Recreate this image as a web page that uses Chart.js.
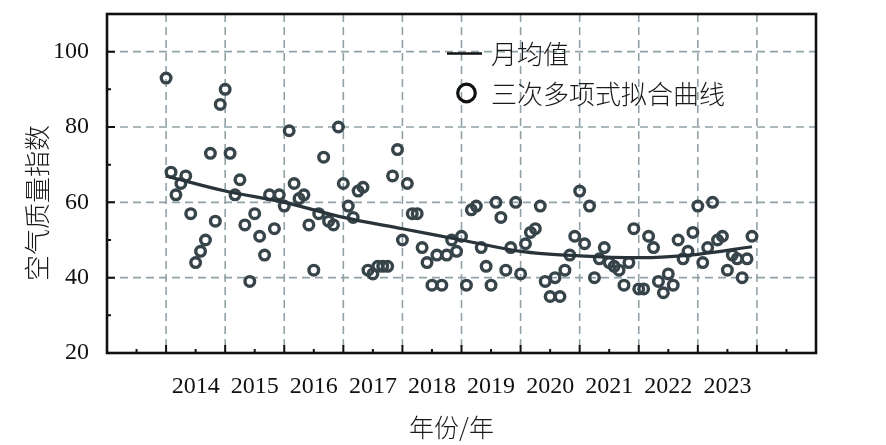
<!DOCTYPE html>
<html><head><meta charset="utf-8">
<script src="https://cdn.jsdelivr.net/npm/chart.js@4.4.1/dist/chart.umd.min.js"></script>
<style>html,body{margin:0;padding:0;background:#fff}#wrap{width:886px;height:445px}</style>
</head><body><div id="wrap"><canvas id="c" width="886" height="445"></canvas></div>
<script>
// ---- data ----
const years = ['2014','2015','2016','2017','2018','2019','2020','2021','2022','2023'];
const monthlyAQI = [
  93,68,62,65,67,57,44,47,50,73,55,86,
  90,73,62,66,54,39,57,51,46,62,53,62,
  59,79,65,61,62,54,42,57,72,55,54,80,
  65,59,56,63,64,42,41,43,43,43,67,74,
  50,65,57,57,48,44,38,46,38,46,50,47,
  51,38,58,59,48,43,38,60,56,42,48,60,
  41,49,52,53,59,39,35,40,35,42,46,51,
  63,49,59,40,45,48,44,43,42,38,44,53,
  37,37,51,48,39,36,41,38,50,45,47,52,
  59,44,48,60,50,51,42,46,45,40,45,51
];
const fitMonth = [0,12,24,36,48,60,72,84,96,108,119];
const fitAQI   = [67,63,60,56,53,50,47,45.8,45.3,46.2,48.2];
const yTicks = [20,40,60,80,100];
const yMinorTicks = [30,50,70,90];
const legendLabels = ['月均值','三次多项式拟合曲线'];
const xTitle = '年份/年';
const yTitle = '空气质量指数';

const GRID = '#90a2a7';
const PT = '#37444a';
const LINE = '#29343a';
const SERIF = '"Liberation Serif", "Times New Roman", serif';
const CJK = '"Noto Sans CJK SC", "Noto Sans", sans-serif';

const decor = {
  id: 'decor',
  beforeDatasetsDraw(chart) {
    const {ctx, chartArea: a, scales: {x, y}} = chart;
    ctx.save();
    ctx.strokeStyle = GRID; ctx.lineWidth = 1.6; ctx.setLineDash([8, 5]);
    ctx.beginPath();
    for (let m = 0; m <= 120; m += 12) {
      const px = x.getPixelForValue(m);
      ctx.moveTo(px, a.top); ctx.lineTo(px, a.bottom);
    }
    for (const v of yTicks) {
      if (v === y.min) continue;
      const py = y.getPixelForValue(v);
      ctx.moveTo(a.left, py); ctx.lineTo(a.right, py);
    }
    ctx.stroke();
    ctx.restore();
  },
  afterDraw(chart) {
    const {ctx, chartArea: a, scales: {x, y}} = chart;
    ctx.save();
    // tick marks (inward)
    ctx.strokeStyle = '#111'; ctx.lineWidth = 2;
    ctx.beginPath();
    for (let m = 0; m <= 120; m += 12) {
      const px = x.getPixelForValue(m);
      ctx.moveTo(px, a.bottom); ctx.lineTo(px, a.bottom - 8);
    }
    for (let m = -6; m <= 126; m += 12) {
      const px = x.getPixelForValue(m);
      ctx.moveTo(px, a.bottom); ctx.lineTo(px, a.bottom - 4);
    }
    for (const v of yTicks) {
      const py = y.getPixelForValue(v);
      ctx.moveTo(a.left, py); ctx.lineTo(a.left + 8, py);
    }
    for (const v of yMinorTicks) {
      const py = y.getPixelForValue(v);
      ctx.moveTo(a.left, py); ctx.lineTo(a.left + 4, py);
    }
    ctx.stroke();
    // frame
    ctx.lineWidth = 2.6; ctx.strokeStyle = '#111';
    ctx.strokeRect(a.left, a.top, a.right - a.left, a.bottom - a.top);

    // legend
    ctx.fillStyle = '#1a1a1a';
    ctx.font = '300 26px ' + CJK;
    ctx.textAlign = 'left'; ctx.textBaseline = 'middle';
    ctx.strokeStyle = '#111'; ctx.lineWidth = 2.6;
    ctx.beginPath(); ctx.moveTo(447, 53.5); ctx.lineTo(482, 53.5); ctx.stroke();
    ctx.fillText(legendLabels[0], 491, 54);
    ctx.lineWidth = 3.2;
    ctx.beginPath(); ctx.arc(466.5, 93, 8.8, 0, Math.PI * 2); ctx.stroke();
    ctx.fillText(legendLabels[1], 491, 94);

    // axis titles
    ctx.font = '300 25px ' + CJK;
    ctx.textAlign = 'center';
    ctx.fillText(xTitle, 451.5, 427);
    ctx.translate(37, 203);
    ctx.rotate(-Math.PI / 2);
    ctx.font = '300 26px ' + CJK;
    ctx.fillText(yTitle, 0, 0);
    ctx.restore();
  }
};

new Chart(document.getElementById('c'), {
  type: 'scatter',
  data: {
    datasets: [
      {
        label: legendLabels[1],
        data: monthlyAQI.map((v, i) => ({x: i, y: v})),
        showLine: false,
        pointStyle: 'circle',
        pointRadius: 4.8,
        pointBorderWidth: 3.4,
        borderWidth: 3.4,
        pointBorderColor: PT,
        borderColor: PT,
        pointBackgroundColor: 'rgba(255,255,255,0)',
        backgroundColor: 'rgba(255,255,255,0)',
        order: 2
      },
      {
        label: legendLabels[0],
        data: fitMonth.map((m, i) => ({x: m, y: fitAQI[i]})),
        showLine: true,
        pointRadius: 0,
        borderColor: LINE,
        borderWidth: 3.2,
        cubicInterpolationMode: 'monotone',
        order: 1
      }
    ]
  },
  options: {
    responsive: false,
    animation: false,
    devicePixelRatio: 1,
    layout: {padding: {left: 0, right: 70, top: 14, bottom: 0}},
    plugins: {legend: {display: false}, tooltip: {enabled: false}},
    scales: {
      x: {
        type: 'linear', min: -12, max: 132,
        afterBuildTicks(s) { s.ticks = years.map((_, k) => ({value: 6 + 12 * k})); },
        ticks: {
          autoSkip: false, maxRotation: 0, minRotation: 0, padding: 14, color: '#111',
          font: {family: SERIF, size: 24, lineHeight: 1},
          callback(v) { return years[Math.round((v - 6) / 12)]; }
        },
        grid: {display: false}, border: {display: false},
        afterFit(s) { s.height = 92; s.paddingLeft = 0; s.paddingRight = 0; }
      },
      y: {
        type: 'linear', min: 20, max: 110,
        afterBuildTicks(s) { s.ticks = yTicks.map(v => ({value: v})); },
        ticks: {
          padding: 10, color: '#111',
          font: {family: SERIF, size: 24, lineHeight: 1}
        },
        grid: {display: false}, border: {display: false},
        afterFit(s) { s.width = 107; s.paddingTop = 0; s.paddingBottom = 0; }
      }
    }
  },
  plugins: [decor]
});
</script>
</body></html>
